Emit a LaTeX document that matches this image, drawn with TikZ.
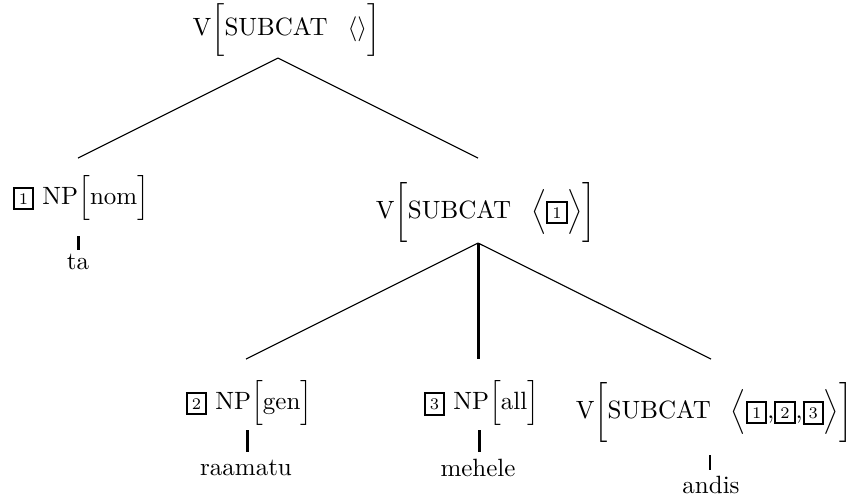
\documentclass[tikz,border=0pt]{standalone}
\usepackage{amsmath}
\usepackage{graphicx}
\newcommand{\bx}[1]{{\setlength{\fboxsep}{1.6pt}\setlength{\fboxrule}{0.8pt}\fbox{\fontsize{6.5}{6.5}\selectfont #1}}}
\newcommand{\shortlb}{\scalebox{1}[0.88]{$\biggl[$}}
\newcommand{\shortrb}{\scalebox{1}[0.88]{$\biggr]$}}
\begin{document}
\begin{tikzpicture}[x=0.4pt,y=-0.4pt,
  lbl/.style={inner sep=0pt, font=\normalsize},
  thin/.style={line width=0.45pt},
  thick/.style={line width=1.2pt}]
\useasboundingbox (0,0) rectangle (850,495);
% nodes
\node[lbl] (root) at (286.5,30) {V\shortlb SUBCAT\hspace{8pt}$\langle\rangle$\shortrb};
\node[lbl] (np1) at (81,198) {\bx{1} NP$\Bigl[\text{nom}\Bigr]$};
\node[lbl] (vmid) at (486,212) {V$\biggl[\text{SUBCAT}\hspace{8pt}\Bigl\langle\bx{1}\Bigr\rangle\biggr]$};
\node[lbl] (np2) at (249,403) {\bx{2} NP$\Bigl[\text{gen}\Bigr]$};
\node[lbl] (np3) at (481.5,403) {\bx{3} NP$\Bigl[\text{all}\Bigr]$};
\node[lbl] (vlow) at (714,412) {V$\biggl[\text{SUBCAT}\hspace{8pt}\Bigl\langle\bx{1}\text{,}\bx{2}\text{,}\bx{3}\Bigr\rangle\biggr]$};
\node[lbl] (ta) at (78,262) {ta};
\node[lbl] (raamatu) at (246,468) {raamatu};
\node[lbl] (mehele) at (478,468) {mehele};
\node[lbl] (andis) at (711,485) {andis};
% attachment points
\coordinate (root-b) at (278,58);
\coordinate (np1-t) at (78,158);
\coordinate (vmid-t) at (478,158);
\coordinate (np1-b) at (78,236);
\coordinate (ta-t) at (78,250);
\coordinate (vmid-b) at (478,243);
\coordinate (np2-t) at (246,359);
\coordinate (np3-t) at (478,359);
\coordinate (vlow-t) at (711,359);
\coordinate (np2-b) at (247,430);
\coordinate (raamatu-t) at (247,452);
\coordinate (np3-b) at (479,430);
\coordinate (mehele-t) at (479,452);
\coordinate (vlow-b) at (710,455);
\coordinate (andis-t) at (710,470);
% connectors
\draw[thin] (root-b) -- (np1-t);
\draw[thin] (root-b) -- (vmid-t);
\draw[thick] (np1-b) -- (ta-t);
\draw[thin] (vmid-b) -- (np2-t);
\draw[thick] (vmid-b) -- (np3-t);
\draw[thin] (vmid-b) -- (vlow-t);
\draw[thick] (np2-b) -- (raamatu-t);
\draw[thick] (np3-b) -- (mehele-t);
\draw[thin] (vlow-b) -- (andis-t);
\end{tikzpicture}
\end{document}
